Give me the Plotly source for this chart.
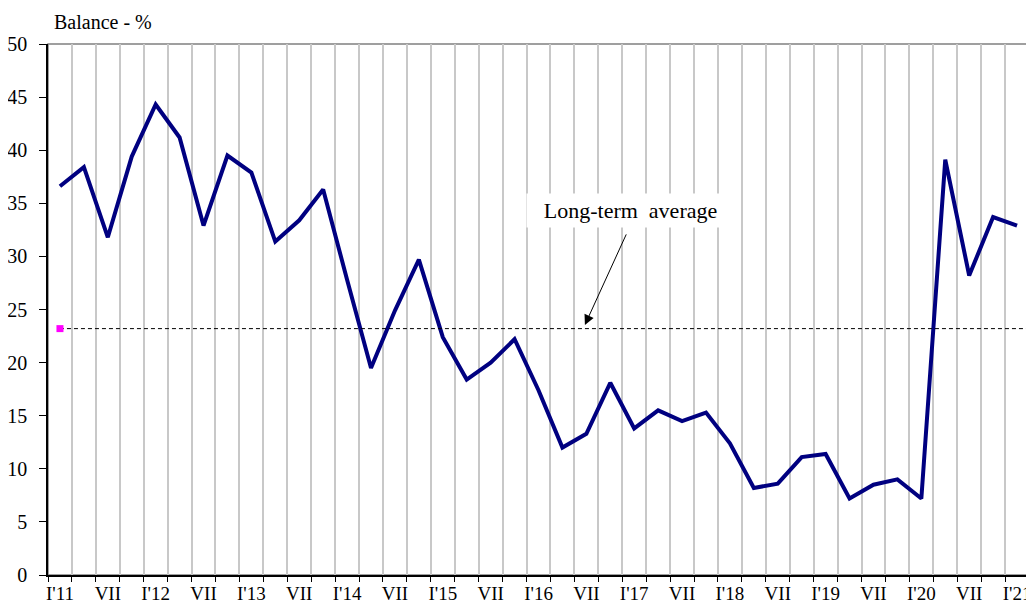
import plotly.graph_objects as go

quarters = []
for yr in range(11, 21):
    quarters += [f"I'{yr}", "IV", "VII", "X"]
quarters += ["I'21"]

balance = [36.6, 38.4, 31.8, 39.4, 44.3, 41.2, 32.9, 39.5, 37.9, 31.4,
           33.4, 36.3, 27.8, 19.5, 24.9, 29.7, 22.4, 18.4, 20.0, 22.2,
           17.4, 12.0, 13.3, 18.1, 13.8, 15.5, 14.5, 15.3, 12.4, 8.2,
           8.6, 11.1, 11.4, 7.2, 8.5, 9.0, 7.2, 39.1, 28.2, 33.7, 32.9]

long_term_average = 23.2

tick_labels = ["I'11", "VII", "I'12", "VII", "I'13", "VII", "I'14", "VII",
               "I'15", "VII", "I'16", "VII", "I'17", "VII", "I'18", "VII",
               "I'19", "VII", "I'20", "VII", "I'21"]

FONT = "Times New Roman, Liberation Serif, serif"
x = list(range(len(quarters)))

fig = go.Figure()
fig.add_trace(go.Scatter(
    x=x, y=balance, mode="lines",
    line=dict(color="#000080", width=4),
    text=quarters, hoverinfo="text+y", showlegend=False))

fig.add_trace(go.Scatter(
    x=[x[0], len(x) - 0.5], y=[long_term_average, long_term_average],
    mode="lines", line=dict(color="black", width=1, dash="4px,3px"),
    showlegend=False, hoverinfo="skip"))
fig.add_trace(go.Scatter(
    x=[x[0]], y=[long_term_average], mode="markers",
    marker=dict(color="#ff00ff", symbol="square", size=7),
    showlegend=False))

fig.update_layout(
    width=1026, height=599,
    margin=dict(l=40, r=5, t=36, b=32, pad=0),
    paper_bgcolor="white", plot_bgcolor="white",
    font=dict(family=FONT, size=20, color="black"),
    xaxis=dict(
        range=[-0.5, len(x) - 0.5],
        tickmode="array",
        tickvals=[x[i] for i in range(0, len(x), 2)],
        ticktext=tick_labels,
        ticks="", showgrid=False, zeroline=False, automargin=False,
        showline=True, linecolor="black", linewidth=1.5,
        tickfont=dict(size=19), ticklabelstandoff=0,
        minor=dict(tick0=-0.5, dtick=1, showgrid=True,
                   gridcolor="#c8c8c8", gridwidth=1.5,
                   ticks="outside", ticklen=5, tickcolor="black"),
    ),
    yaxis=dict(
        range=[0, 50], dtick=5, tick0=0,
        ticks="outside", ticklen=7, tickcolor="black",
        showgrid=False, zeroline=False, automargin=False,
        showline=True, linecolor="black", linewidth=1.5,
        tickfont=dict(size=20), ticklabelstandoff=8,
    ),
)

fig.add_shape(type="rect", xref="paper", yref="paper", x0=0, x1=1, y0=0, y1=1,
              line=dict(color="#808080", width=1.5), layer="below")

fig.add_annotation(
    xref="paper", yref="paper", x=0.004, y=1.0, xanchor="left", yanchor="bottom",
    yshift=9, text="Balance - %", showarrow=False, font=dict(size=20))

fig.add_annotation(
    x=23.86, y=34.3, text="Long-term&nbsp;&nbsp;average", showarrow=False,
    bgcolor="white", borderpad=0, width=207, height=33, font=dict(size=22))

fig.add_annotation(
    x=21.94, y=23.55, ax=42, ay=-92, text="", showarrow=True,
    arrowhead=2, arrowsize=2, arrowwidth=1, arrowcolor="black")

fig.write_html("out.html")
